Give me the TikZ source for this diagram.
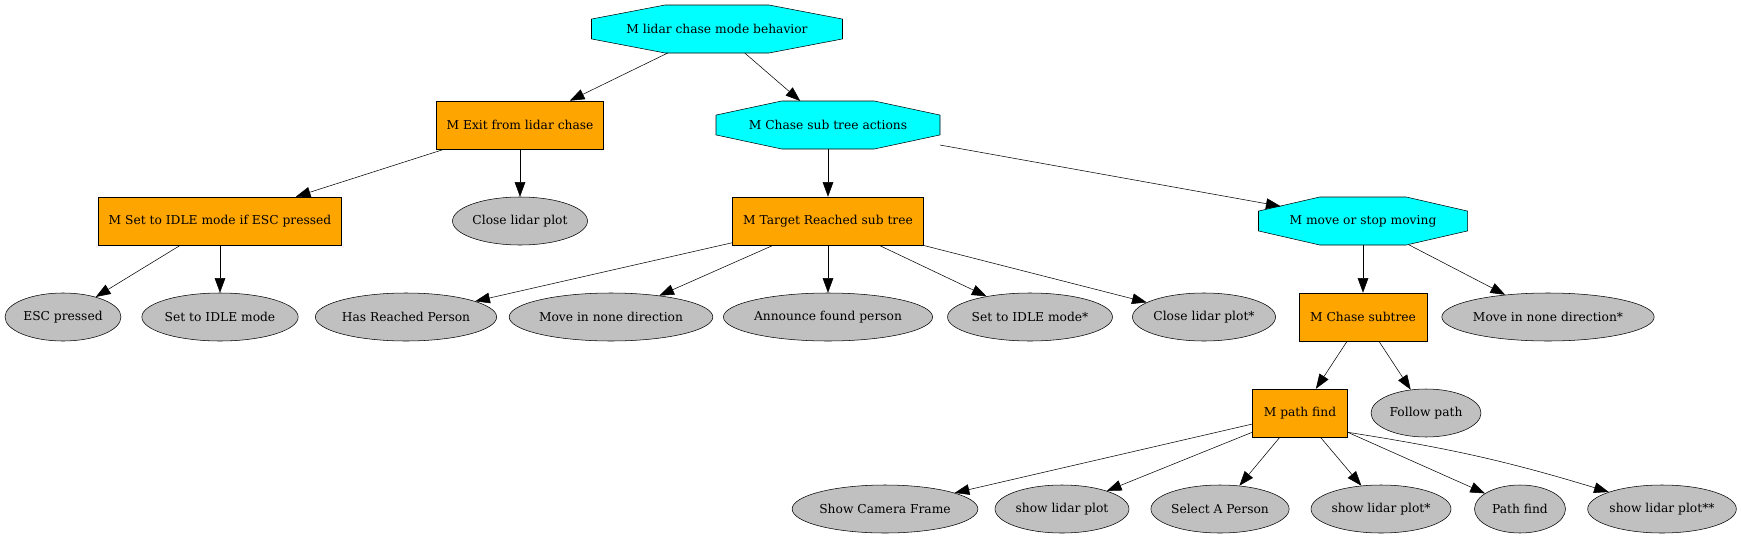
\documentclass[tikz,border=0pt]{standalone}
\usepackage{fontspec}
\setmainfont{DejaVu Serif}
\usetikzlibrary{shapes.geometric,arrows.meta,calc,backgrounds}

\definecolor{gvorange}{RGB}{255,165,0}
\definecolor{gvcyan}{RGB}{0,255,255}
\definecolor{gvgray}{RGB}{192,192,192}

\tikzset{
  every node/.style={font=\fontsize{9.2}{11}\selectfont},
  seqbox/.style={draw, fill=gvorange, rectangle, inner sep=0pt, minimum height=36pt, minimum width=#1*0.75pt},
  selbox/.style={rectangle, inner sep=0pt, outer sep=0pt, minimum height=36pt, minimum width=#1*0.75pt},
  leaf/.style={draw, fill=gvgray, ellipse, inner sep=0pt, minimum height=36pt, minimum width=#1*0.75pt},
  link/.style={-{Triangle[length=11pt,width=8pt]}},
  octfill/.style={draw, fill=gvcyan, line join=miter}
}

\begin{document}
\begin{tikzpicture}[x=0.75pt,y=0.75pt,yscale=-1,xscale=1,line width=1.15pt]
\useasboundingbox (0,0) rectangle (1742,539);

%Selectors (octagons drawn behind)
\node[selbox=251] (root) at (717,29) {M lidar chase mode behavior};
\node[selbox=224] (chase) at (828,125) {M Chase sub tree actions};
\node[selbox=209] (move) at (1363,221) {M move or stop moving};

\begin{pgfonlayer}{background}
\foreach \o in {root,chase,move}
  \draw[octfill] ($(\o.north west)!0.293!(\o.north east)$) -- ($(\o.north west)!0.707!(\o.north east)$)
    -- ($(\o.north east)!0.293!(\o.south east)$) -- ($(\o.north east)!0.707!(\o.south east)$)
    -- ($(\o.south west)!0.707!(\o.south east)$) -- ($(\o.south west)!0.293!(\o.south east)$)
    -- ($(\o.north west)!0.707!(\o.south west)$) -- ($(\o.north west)!0.293!(\o.south west)$) -- cycle;
\end{pgfonlayer}

%Sequences
\node[seqbox=167] (exit) at (520,125) {M Exit from lidar chase};
\node[seqbox=243] (setidle) at (220,221) {M Set to IDLE mode if ESC pressed};
\node[seqbox=191] (target) at (828,221) {M Target Reached sub tree};
\node[seqbox=128] (chasesub) at (1363,317) {M Chase subtree};
\node[seqbox=95] (pathfind) at (1300,413) {M path find};

%Leaves
\node[leaf=135] (closeplot) at (520,221) {Close lidar plot};
\node[leaf=116] (esc) at (63,317) {ESC pressed};
\node[leaf=151] (idlemode) at (220,317) {Set to IDLE mode};
\node[leaf=172] (reached) at (406,317) {Has Reached Person};
\node[leaf=191] (nomove) at (611,317) {Move in none direction};
\node[leaf=195] (announce) at (828,317) {Announce found person};
\node[leaf=159] (idlestar) at (1030,317) {Set to IDLE mode*};
\node[leaf=142] (closestar) at (1204,317) {Close lidar plot*};
\node[leaf=198] (nomovestar) at (1548,317) {Move in none direction*};
\node[leaf=110] (follow) at (1426,413) {Follow path};
\node[leaf=173] (camera) at (885,509) {Show Camera Frame};
\node[leaf=134] (showplot) at (1062,509) {show lidar plot};
\node[leaf=136] (select) at (1220,509) {Select A Person};
\node[leaf=140] (showstar) at (1381,509) {show lidar plot*};
\node[leaf=91] (pathleaf) at (1520,509) {Path find};
\node[leaf=145] (showss) at (1662,509) {show lidar plot**};

%Edges
\draw[link] (root) -- (exit);
\draw[link] (root) -- (chase);
\draw[link] (exit) -- (setidle);
\draw[link] (exit) -- (closeplot);
\draw[link] (setidle) -- (esc);
\draw[link] (setidle) -- (idlemode);
\draw[link] (chase) -- (target);
\draw[link, shorten >=-16.9pt] (chase) -- (move);
\foreach \c in {reached,nomove,announce,idlestar,closestar}
  \draw[link] (target) -- (\c);
\draw[link] (move) -- (chasesub);
\draw[link] (move) -- (nomovestar);
\draw[link] (chasesub) -- (pathfind);
\draw[link] (chasesub) -- (follow);
\foreach \c in {camera,showplot,select,showstar}
  \draw[link] (pathfind) -- (\c);
\draw[link] (pathfind.-22) -- (pathleaf);
\draw[link] (pathfind.-22) to[bend right=4] (showss);

\end{tikzpicture}
\end{document}
